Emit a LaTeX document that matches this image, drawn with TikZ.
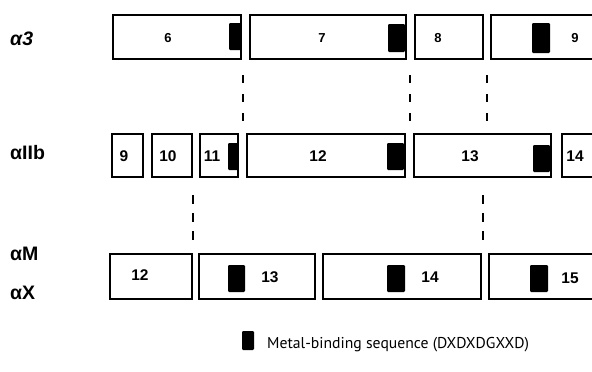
\documentclass[tikz,border=0pt]{standalone}
\usepackage{fontspec}
\setmainfont{Liberation Sans}
\newfontfamily\legendfont{PT Sans}
\usetikzlibrary{fit}
\begin{document}
\begin{tikzpicture}[x=1pt,y=-1pt,
  exon/.style={draw, line width=1.4pt, inner sep=0pt},
  openexon/.style={draw, line width=1.4pt},
  motif/.style={fill=black, rounded corners=1.2pt, inner sep=0pt},
  num/.style={font=\bfseries\fontsize{15.5}{15.5}\selectfont, inner sep=0pt},
  numsmall/.style={font=\bfseries\fontsize{13}{13}\selectfont, inner sep=0pt},
  rowlabel/.style={font=\bfseries\fontsize{19.5}{19.5}\selectfont, inner sep=0pt, anchor=west},
  align1/.style={line width=1.1pt, dash pattern=on 8pt off 11pt},
  align2/.style={line width=1.1pt, dash pattern=on 9pt off 9pt}]
\useasboundingbox (0,0) rectangle (592,372);

% ---- row labels
\node[rowlabel] (l3)  at (10,39)  {\itshape α3};
\node[rowlabel] (l2b) at (10,153) {αIIb};
\node[rowlabel] (lm)  at (10,254) {αM};
\node[rowlabel] (lx)  at (10,293) {αX};

% ---- alpha3, exons 6-9
\node[exon, fit={(113,15) (241,59)}] (a6) {};
\node[exon, fit={(250,15) (406,59)}] (a7) {};
\node[exon, fit={(415,15) (483,59)}] (a8) {};
\draw[openexon] (600,15) -| (491,59) -- (600,59);
\coordinate (a9) at (491,37);
\node[motif, fit={(229,23) (241,50)}] (ma6) {};
\node[motif, fit={(388,24) (405,52)}] (ma7) {};
\node[motif, fit={(532,23) (550,53)}] (ma9) {};
\node[numsmall] at (168,38) {6};
\node[numsmall] at (322,38) {7};
\node[numsmall] at (438,38) {8};
\node[numsmall] at (575,38) {9};

% ---- alphaIIb, exons 9-14
\node[exon, fit={(112,134) (143,177)}] (b9) {};
\node[exon, fit={(152,134) (192,177)}] (b10) {};
\node[exon, fit={(200,134) (238,177)}] (b11) {};
\node[exon, fit={(247,134) (405,177)}] (b12) {};
\node[exon, fit={(414,134) (551,177)}] (b13) {};
\draw[openexon] (600,134) -| (562,177) -- (600,177);
\node[motif, fit={(228,143) (238,170)}] (mb11) {};
\node[motif, fit={(387,143) (404,170)}] (mb12) {};
\node[motif, fit={(533,145) (550,172)}] (mb13) {};
\node[num] at (124,156) {9};
\node[num] at (168,156) {10};
\node[num] at (212,156) {11};
\node[num] at (318,156) {12};
\node[num] at (470,156) {13};
\node[num] at (575,156) {14};

% ---- alphaM / alphaX, exons 12-15
\node[exon, fit={(110,254) (192,299)}] (c12) {};
\node[exon, fit={(199,254) (315,299)}] (c13) {};
\node[exon, fit={(323,254) (481,299)}] (c14) {};
\draw[openexon] (600,254) -| (489,299) -- (600,299);
\node[motif, fit={(228,265) (245,292)}] (mc13) {};
\node[motif, fit={(387,265) (405,292)}] (mc14) {};
\node[motif, fit={(530,265) (548,292)}] (mc15) {};
\node[num] at (140,275) {12};
\node[num] at (270,277) {13};
\node[num] at (430,277) {14};
\node[num] at (570,278) {15};

% ---- exon boundary alignments
\coordinate (u1t) at (243,75);  \coordinate (u1b) at (243,125);
\coordinate (u2t) at (410,75);  \coordinate (u2b) at (410,125);
\coordinate (u3t) at (487,75);  \coordinate (u3b) at (487,125);
\coordinate (d1t) at (193,195); \coordinate (d1b) at (193,242);
\coordinate (d2t) at (483,195); \coordinate (d2b) at (483,242);
\draw[align1] (u1t) -- (u1b);
\draw[align1] (u2t) -- (u2b);
\draw[align1] (u3t) -- (u3b);
\draw[align2] (d1t) -- (d1b);
\draw[align2] (d2t) -- (d2b);

% ---- legend
\node[motif, fit={(242,331) (254,350)}] (key) {};
\node[anchor=base west, inner sep=0pt, font=\legendfont\fontsize{15.7}{15.7}\selectfont]
  (keytext) at (267,348) {Metal-binding sequence (DXDXDGXXD)};
\end{tikzpicture}
\end{document}
